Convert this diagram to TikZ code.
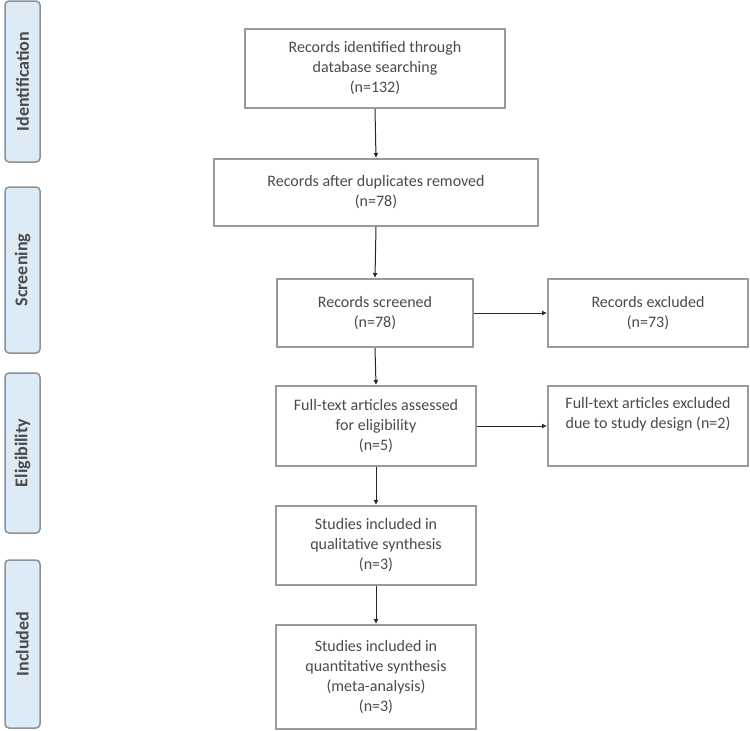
\documentclass[tikz,border=0pt]{standalone}
\usepackage{fontspec}
\setmainfont{Carlito}
\usepackage{xcolor}
\usepackage{tikz}
\usetikzlibrary{arrows.meta, positioning}

\definecolor{phasefill}{HTML}{DDEBF7}
\definecolor{phaseline}{HTML}{8C9196}
\definecolor{boxline}{HTML}{9A9A9A}
\definecolor{boxtext}{HTML}{4A4A4A}

\begin{document}
\begin{tikzpicture}[x=1pt, y=-1pt,
        box/.style={draw=boxline, line width=2pt, fill=white, align=center, inner sep=2pt,
            text=boxtext, font=\fontsize{16}{20}\selectfont},
        phase/.style={draw=phaseline, line width=1.5pt, rounded corners=4pt, fill=phasefill,
            rotate=90, minimum height=35pt, inner sep=0pt, text=boxtext,
            font=\fontsize{18}{20}\selectfont\bfseries},
        flow/.style={-{Latex[length=5pt, width=5pt]}, line width=1pt, draw=black!85}]
        \useasboundingbox (0,0) rectangle (750,731);

        % phase labels
        \node[phase, minimum width=161pt] (ident) at (22.5, 81.5) {Identification};
        \node[phase, minimum width=166pt] (screen) at (22.5, 270) {Screening};
        \node[phase, minimum width=160pt] (elig) at (22.5, 453) {Eligibility};
        \node[phase, minimum width=168pt] (incl) at (22.5, 644) {Included};

        % main flow
        \node[box, minimum width=260pt, minimum height=79pt] (found) at (375, 68.5) {Records identified through\\database searching\\(n=132)};
        \node[box, minimum width=324pt, minimum height=67pt] (dedup) at (376, 192.5) {Records after duplicates removed\\(n=78)};
        \node[box, minimum width=196pt, minimum height=68pt] (screened) at (375, 313) {Records screened\\(n=78)};
        \node[box, minimum width=200pt, minimum height=80pt] (fulltext) at (376, 426) {Full-text articles assessed\\for eligibility\\(n=5)};
        \node[box, minimum width=200pt, minimum height=79pt] (qual) at (376, 545.5) {Studies included in\\qualitative synthesis\\(n=3)};
        \node[box, minimum width=200pt, minimum height=104pt] (quant) at (376, 677) {Studies included in\\quantitative synthesis\\(meta-analysis)\\(n=3)};

        % exclusions
        \node[box, minimum width=200pt, minimum height=68pt] (excl) at (648, 313) {Records excluded\\(n=73)};
        \node[box, minimum width=200pt, minimum height=80pt] (fexcl) at (648, 426) {Full-text articles excluded\\due to study design (n=2)\\\strut};

        % arrows
        \draw[flow] (found.south) -- (dedup.north);
        \draw[flow] (dedup.south) -- (screened.north);
        \draw[flow] (screened.south) -- (fulltext.north);
        \draw[flow] (fulltext.south) -- (qual.north);
        \draw[flow] (qual.south) -- (quant.north);
        \draw[flow] (screened.east) -- (excl.west);
        \draw[flow] (fulltext.east) -- (fexcl.west);
    \end{tikzpicture}
\end{document}
